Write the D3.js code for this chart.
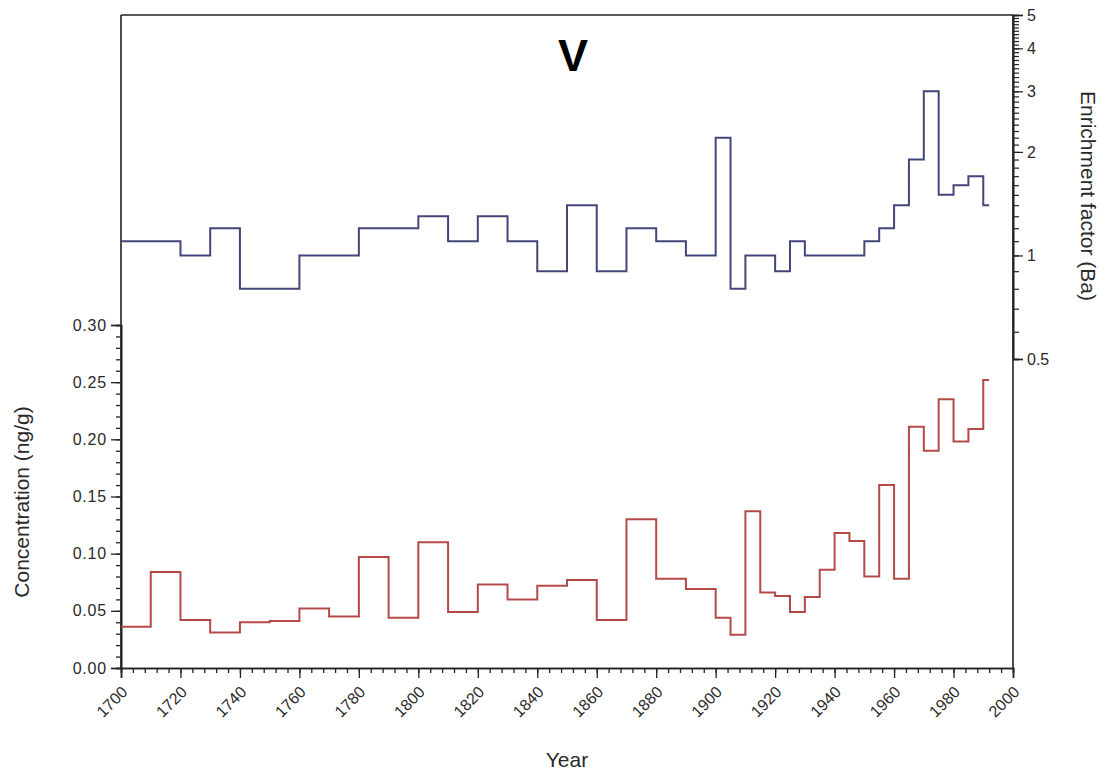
<!DOCTYPE html>
<html>
<head>
<meta charset="utf-8">
<script src="https://cdn.jsdelivr.net/npm/d3@7"></script>
<style>
  html, body { margin: 0; padding: 0; background: #fff; }
  svg text { font-family: "Liberation Sans", Arial, Helvetica, sans-serif; fill: #2a2a2a; }
</style>
</head>
<body>
<svg id="chart" width="1105" height="771"></svg>
<script>
// Enrichment factor (Ba) for V, step series: bin start years and values
const efStarts = [1700,1720,1730,1740,1760,1780,1800,1810,1820,1830,1840,1850,1860,1870,1880,1890,1900,1905,1910,1920,1925,1930,1950,1955,1960,1965,1970,1975,1980,1985,1990];
const efValues = [1.1,1.0,1.2,0.8,1.0,1.2,1.3,1.1,1.3,1.1,0.9,1.4,0.9,1.2,1.1,1.0,2.2,0.8,1.0,0.9,1.1,1.0,1.1,1.2,1.4,1.9,3.0,1.5,1.6,1.7,1.4];

// V concentration (ng/g), step series: bin start years and values
const concStarts = [1700,1710,1720,1730,1740,1750,1760,1770,1780,1790,1800,1810,1820,1830,1840,1850,1860,1870,1880,1890,1900,1905,1910,1915,1920,1925,1930,1935,1940,1945,1950,1955,1960,1965,1970,1975,1980,1985,1990];
const concValues = [0.036,0.084,0.042,0.031,0.040,0.041,0.052,0.045,0.097,0.044,0.110,0.049,0.073,0.060,0.072,0.077,0.042,0.130,0.078,0.069,0.044,0.029,0.137,0.066,0.063,0.049,0.062,0.086,0.118,0.111,0.080,0.160,0.078,0.211,0.190,0.235,0.198,0.209,0.252];

const lastYear = 1992;

// Axis ticks
const yearTicks = d3.range(1700, 2001, 20);
const yearMinor = d3.range(1700, 2001, 4);
const concTicks = [0.00, 0.05, 0.10, 0.15, 0.20, 0.25, 0.30];
const concMinor = d3.range(0, 31).map(d => d / 100);
const efTicks = [0.5, 1, 2, 3, 4, 5];
const efMinor = d3.range(5, 51).map(d => d / 10);

const svg = d3.select("#chart");

const plotLeft = 121, plotRight = 1013, plotTop = 15, plotBottom = 668;

const x = d3.scaleLinear().domain([1700, 2000]).range([plotLeft, plotRight]);
const yConc = d3.scaleLinear().domain([0, 0.30]).range([plotBottom, 325]);
const yEF = d3.scaleLog().domain([0.5, 5]).range([359, plotTop]);

const axisColor = "#222";
const tickFont = 16;

// Frame: left and top lines, right axis line
svg.append("line").attr("x1", plotLeft).attr("x2", plotLeft).attr("y1", plotTop).attr("y2", plotBottom)
  .attr("stroke", axisColor).attr("stroke-width", 1.6);
svg.append("line").attr("x1", plotLeft).attr("x2", plotRight).attr("y1", plotTop).attr("y2", plotTop)
  .attr("stroke", axisColor).attr("stroke-width", 1.6);
svg.append("line").attr("x1", plotRight).attr("x2", plotRight).attr("y1", plotTop).attr("y2", plotBottom)
  .attr("stroke", axisColor).attr("stroke-width", 1.6);

// Bottom axis (years)
const xAxisMinor = d3.axisBottom(x).tickValues(yearMinor).tickSize(5).tickFormat("");
const gxm = svg.append("g").attr("transform", `translate(0,${plotBottom})`).call(xAxisMinor);
const xAxis = d3.axisBottom(x).tickValues(yearTicks).tickSize(10).tickFormat(d3.format("d"));
const gx = svg.append("g").attr("transform", `translate(0,${plotBottom})`).call(xAxis);
[gxm, gx].forEach(g => {
  g.select(".domain").attr("stroke", axisColor).attr("stroke-width", 1.6);
  g.selectAll(".tick line").attr("stroke", axisColor).attr("stroke-width", 1.3);
});
gx.selectAll(".tick text")
  .attr("font-size", tickFont)
  .attr("text-anchor", "end")
  .attr("dy", null)
  .attr("y", 0)
  .attr("transform", "translate(7,25) rotate(-45)");

// Left axis (concentration)
const yAxisMinor = d3.axisLeft(yConc).tickValues(concMinor).tickSize(5).tickFormat("");
const gym = svg.append("g").attr("transform", `translate(${plotLeft},0)`).call(yAxisMinor);
const yAxis = d3.axisLeft(yConc).tickValues(concTicks).tickSize(10).tickFormat(d3.format(".2f"));
const gy = svg.append("g").attr("transform", `translate(${plotLeft},0)`).call(yAxis);
[gym, gy].forEach(g => {
  g.select(".domain").attr("stroke", axisColor).attr("stroke-width", 1.6);
  g.selectAll(".tick line").attr("stroke", axisColor).attr("stroke-width", 1.3);
});
gy.selectAll(".tick text").attr("font-size", tickFont).attr("x", -14)
  .attr("letter-spacing", 0.8);

// Right axis (enrichment factor, log)
const efAxisMinor = d3.axisRight(yEF).tickValues(efMinor).tickSize(6).tickFormat("");
const gem = svg.append("g").attr("transform", `translate(${plotRight},0)`).call(efAxisMinor);
const efAxis = d3.axisRight(yEF).tickValues(efTicks).tickSize(10).tickFormat(d => String(d));
const ge = svg.append("g").attr("transform", `translate(${plotRight},0)`).call(efAxis);
[gem, ge].forEach(g => {
  g.select(".domain").attr("stroke", axisColor).attr("stroke-width", 1.6);
  g.selectAll(".tick line").attr("stroke", axisColor).attr("stroke-width", 1.2);
});
ge.selectAll(".tick text").attr("font-size", tickFont).attr("x", 14);

// Step lines
const stepLine = (yScale) => d3.line()
  .x(d => x(d[0]))
  .y(d => yScale(d[1]))
  .curve(d3.curveStepAfter);

const efPts = efStarts.map((s, i) => [s, efValues[i]]);
efPts.push([lastYear, efValues[efValues.length - 1]]);
const concPts = concStarts.map((s, i) => [s, concValues[i]]);
concPts.push([lastYear, concValues[concValues.length - 1]]);

svg.append("path").datum(efPts)
  .attr("d", stepLine(yEF))
  .attr("fill", "none").attr("stroke", "#44467a").attr("stroke-width", 2);

svg.append("path").datum(concPts)
  .attr("d", stepLine(yConc))
  .attr("fill", "none").attr("stroke", "#b44a48").attr("stroke-width", 2);

// Titles
svg.append("text").attr("x", 573).attr("y", 71)
  .attr("text-anchor", "middle").attr("font-size", 45).attr("font-weight", "bold")
  .style("fill", "#000").text("V");

svg.append("text").attr("x", 567).attr("y", 767)
  .attr("text-anchor", "middle").attr("font-size", 21).text("Year");

svg.append("text")
  .attr("transform", "translate(29,502) rotate(-90)")
  .attr("text-anchor", "middle").attr("font-size", 21).text("Concentration (ng/g)");

svg.append("text")
  .attr("transform", "translate(1081,196) rotate(90)")
  .attr("text-anchor", "middle").attr("font-size", 21).text("Enrichment factor (Ba)");
</script>
</body>
</html>
